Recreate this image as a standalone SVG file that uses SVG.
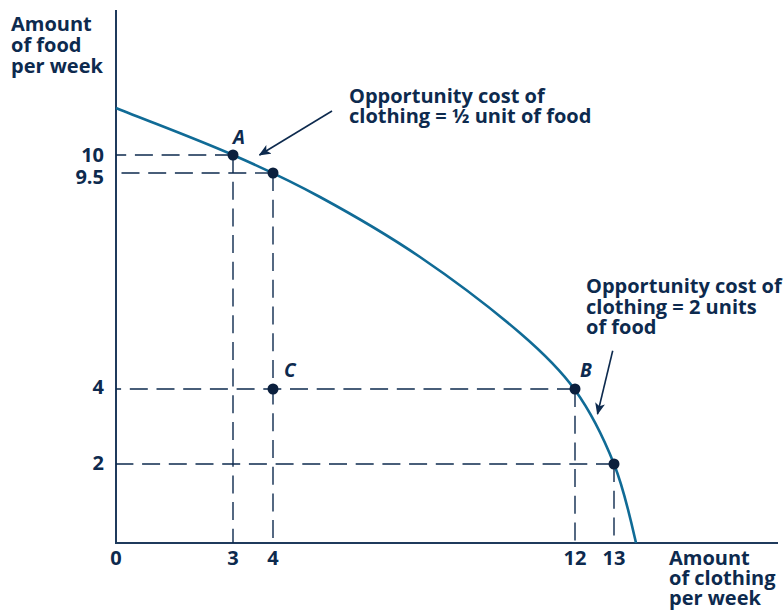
<svg xmlns="http://www.w3.org/2000/svg" width="784" height="611" viewBox="0 0 784 611">
<style>
text{font-family:"Open Sans","Noto Sans","Liberation Sans",sans-serif;font-weight:bold;fill:#0d2a4e;font-size:20px}
.lbl{font-style:italic;font-size:19px}
.tick{text-anchor:middle}
.ytick{text-anchor:end}
.axis{stroke:#1f3a5c;stroke-width:2;fill:none}
.dash{stroke:#0d2a4e;stroke-width:1.4;fill:none;stroke-dasharray:18 8.7}
.curve{stroke:#106b96;stroke-width:2.6;fill:none}
.arrow{stroke:#0d2a4e;stroke-width:1.6;fill:none;marker-end:url(#ah)}
.dot{fill:#0b1f3d}
</style>
<defs>
<marker id="ah" viewBox="0 0 12 10" refX="11" refY="5" markerWidth="12" markerHeight="10" markerUnits="userSpaceOnUse" orient="auto">
<path d="M0,0 L12,5 L0,10 L3,5 z" fill="#0d2a4e"/>
</marker>
</defs>
<g id="axes">
<line class="axis" x1="116" y1="10" x2="116" y2="543"/>
<line class="axis" x1="115" y1="543" x2="778" y2="543"/>
</g>
<g id="guides">
<line class="dash" x1="233" y1="155" x2="116" y2="155"/>
<line class="dash" x1="273" y1="173" x2="116" y2="173"/>
<line class="dash" x1="575" y1="389" x2="116" y2="389"/>
<line class="dash" x1="614" y1="464" x2="116" y2="464"/>
<line class="dash" x1="233" y1="155" x2="233" y2="543"/>
<line class="dash" x1="273" y1="173" x2="273" y2="543"/>
<line class="dash" x1="575" y1="389" x2="575" y2="543"/>
<line class="dash" x1="614" y1="464" x2="614" y2="543"/>
</g>
<g id="ppf">
<path class="curve" d="M116,108 C155,123.7 194.5,138.2 233,155 C262.5,167.9 291.7,181.6 320,197 C354.2,215.6 387.8,235.1 420,257 C454.6,280.5 488.2,305.7 520,333 C540,350.2 559.6,368.5 575,390 C591.3,412.7 603.7,438.1 614,464 C624.1,489.4 630,516.4 636,543"/>
</g>
<g id="connectors">
<line class="arrow" x1="332" y1="111" x2="259.5" y2="155"/>
<line class="arrow" x1="612.7" y1="350.7" x2="597.5" y2="414"/>
</g>
<g id="pointA"><circle class="dot" cx="233" cy="155" r="5.5"/><text class="lbl" x="233" y="144">A</text></g>
<g id="pointA2"><circle class="dot" cx="273" cy="173" r="5.5"/></g>
<g id="pointB"><circle class="dot" cx="575" cy="389" r="5.5"/><text class="lbl" x="580" y="377">B</text></g>
<g id="pointB2"><circle class="dot" cx="614" cy="464" r="5.5"/></g>
<g id="pointC"><circle class="dot" cx="273" cy="389" r="5.5"/><text class="lbl" x="284" y="377">C</text></g>
<g id="ylabel">
<text x="11" y="31">Amount</text>
<text x="11" y="52">of food</text>
<text x="11" y="73">per week</text>
</g>
<g id="yticks">
<text class="ytick" x="104" y="162">10</text>
<text class="ytick" x="104" y="184">9.5</text>
<text class="ytick" x="104" y="394">4</text>
<text class="ytick" x="104" y="470">2</text>
</g>
<g id="xticks">
<text class="tick" x="116" y="565">0</text>
<text class="tick" x="233" y="565">3</text>
<text class="tick" x="273" y="565">4</text>
<text class="tick" x="575" y="565">12</text>
<text class="tick" x="614" y="565">13</text>
</g>
<g id="xlabel">
<text x="669" y="565">Amount</text>
<text x="669" y="585">of clothing</text>
<text x="669" y="605">per week</text>
</g>
<g id="note1">
<text x="349" y="103">Opportunity cost of</text>
<text x="349" y="123">clothing = ½ unit of food</text>
</g>
<g id="note2">
<text x="586" y="293">Opportunity cost of</text>
<text x="586" y="314">clothing = 2 units</text>
<text x="586" y="334">of food</text>
</g>
</svg>
